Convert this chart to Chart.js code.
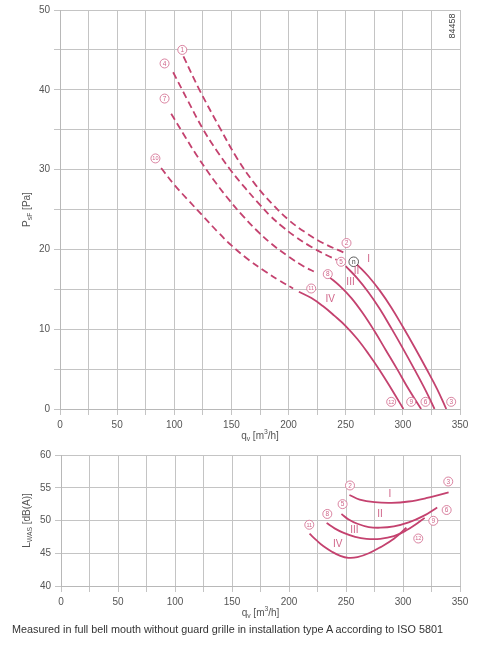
<!DOCTYPE html>
<html>
<head>
<meta charset="utf-8">
<script src="https://cdn.jsdelivr.net/npm/chart.js@4.4.1/dist/chart.umd.min.js"></script>
<style>
  body { margin: 0; background: #fff; width: 498px; height: 647px; position: relative; overflow: hidden; }
  canvas { position: absolute; left: 0; }
  #topChart { top: 0; }
  #bottomChart { top: 445px; }
  .caption { position: absolute; left: 12px; top: 623px; font: 10.8px "Liberation Sans", Arial, sans-serif; color: #333; white-space: nowrap; }
</style>
</head>
<body>
<canvas id="topChart" width="498" height="445"></canvas>
<canvas id="bottomChart" width="498" height="180"></canvas>
<div class="caption">Measured in full bell mouth without guard grille in installation type A according to ISO 5801</div>
<script>
// Pressure curves [q_v m3/h, p_sF Pa]
const dashedI   = [[108,44.2],[122,40],[140,35.2],[155,31.4],[170,28.3],[185,25.8],[200,23.7],[215,22.1],[230,20.8],[250,19.5]];
const solidI    = [[260,18.1],[270,16.6],[280,14.8],[290,12.7],[300,10.3],[310,7.8],[320,5.2],[330,2.5],[338,0]];
const dashedII  = [[99,42.2],[112,38.6],[125,35.1],[137,32.4],[150,29.8],[162,27.7],[173,25.9],[184,24.2],[195,22.8],[205,21.7],[220,20.3],[233,19.3],[242,18.7]];
const solidII   = [[250,17.9],[260,16.4],[270,14.6],[280,12.5],[290,10.1],[300,7.6],[310,5],[320,2.3],[327.7,0]];
const dashedIII = [[97.3,37],[110,34],[120,31.7],[135,28.6],[148,26.2],[160,24.2],[172,22.4],[185,20.7],[200,19.1],[213,17.9],[224,17.1]];
const solidIII  = [[236,16.5],[245,15.4],[255,13.9],[265,12],[275,9.8],[285,7.4],[295,5],[305,2.5],[316,0]];
const dashedIV  = [[88.5,30.2],[100,28.1],[112,26.2],[125,24.2],[138,22.2],[150,20.5],[165,18.7],[180,17.2],[192,16.1],[204,15.1]];
const solidIV   = [[209,14.7],[220,13.9],[230,12.9],[240,11.7],[250,10.4],[260,8.8],[270,6.9],[280,4.8],[290,2.5],[300.5,0]];

// Sound power curves [q_v m3/h, L_WAS dB(A)]
const soundI   = [[253,53.9],[262,53.2],[275,52.8],[290,52.7],[305,52.9],[320,53.4],[340,54.3]];
const soundII  = [[246,51],[252,50.2],[260,49.5],[270,49],[280,48.9],[292,49.1],[305,49.7],[318,50.7],[330,52]];
const soundIII = [[233,49.6],[240,48.8],[248,48.1],[258,47.5],[268,47.2],[280,47.2],[292,47.6],[303,48.5],[312,49.5],[319,50.4]];
const soundIV  = [[218,48],[224,47],[230,46.1],[238,45.2],[245,44.6],[252,44.3],[260,44.4],[270,45],[280,45.9],[292,47.2],[303,48.9]];

// point labels [text, q, value]
const topPoints = [['1',107,45],['4',91.5,43.3],['7',91.5,38.9],['10',83.5,31.4],['2',250.7,20.8],['5',246,18.45],
                   ['8',234.3,16.9],['11',219.8,15.1],['12',289.8,0.9],['9',307.3,0.9],['6',319.8,0.9],['3',342.3,0.9]];
const opPoint = ['n',257,18.45];
const topRomans = [['I',270,18.8],['II',259.4,17.3],['III',254.2,15.9],['IV',236.4,13.7]];
const bottomPoints = [['2',253.5,55.35],['3',339.7,55.95],['5',247,52.5],['6',338.3,51.6],['8',233.6,51],['9',326.6,49.95],['11',217.8,49.35],['12',313.4,47.25]];
const bottomRomans = [['I',288.6,53.95],['II',279.8,50.95],['III',257.3,48.45],['IV',242.7,46.45]];

const qTicks = { min: 0, max: 350, step: 25, labelEvery: 50 };
const pTicks = { min: 0, max: 50, step: 5, labelEvery: 10 };
const lTicks = { min: 40, max: 60, step: 5, labelEvery: 5 };

const LINE = '#c4426f';
const LABEL = '#d0668a';
const FONT = '"Liberation Sans", Arial, sans-serif';

function toXY(arr) { return arr.map(p => ({ x: p[0], y: p[1] })); }

function lineSet(arr, dashed) {
    return {
        data: toXY(arr),
        borderColor: LINE,
        borderWidth: 1.8,
        borderDash: dashed ? [7, 4] : [],
        pointRadius: 0,
        fill: false,
        tension: 0.4
    };
}

// draws text with sub/superscript parts centred on cx, cy
function drawRich(ctx, parts, cx, cy, size) {
    let widths = parts.map(p => {
        ctx.font = (p.sub || p.sup ? size * 0.68 : size) + 'px ' + FONT;
        return ctx.measureText(p.t).width;
    });
    let total = widths.reduce((a, b) => a + b, 0);
    let x = cx - total / 2;
    parts.forEach((p, i) => {
        ctx.font = (p.sub || p.sup ? size * 0.68 : size) + 'px ' + FONT;
        let dy = p.sub ? size * 0.32 : (p.sup ? -size * 0.38 : 0);
        ctx.fillText(p.t, x, cy + dy);
        x += widths[i];
    });
}

const annotate = {
    id: 'annotate',
    afterDatasetsDraw(chart, args, opts) {
        const ctx = chart.ctx;
        const xs = chart.scales.x, ys = chart.scales.y;
        ctx.save();
        ctx.textAlign = 'center';
        ctx.textBaseline = 'middle';
        (opts.points || []).forEach(p => {
            const px = xs.getPixelForValue(p[1]), py = ys.getPixelForValue(p[2]);
            const dark = p[0] === 'n';
            ctx.beginPath();
            ctx.arc(px, py, dark ? 4.8 : 4.5, 0, Math.PI * 2);
            ctx.fillStyle = '#fff';
            ctx.fill();
            ctx.lineWidth = 0.8;
            ctx.strokeStyle = dark ? '#333' : LABEL;
            ctx.stroke();
            ctx.fillStyle = dark ? '#333' : LABEL;
            ctx.font = (p[0].length > 1 ? 5.5 : 6.5) + 'px ' + FONT;
            ctx.fillText(p[0], px, py + 0.3);
        });
        ctx.font = '10px ' + FONT;
        ctx.fillStyle = LABEL;
        (opts.romans || []).forEach(r => {
            ctx.fillText(r[0], xs.getPixelForValue(r[1]), ys.getPixelForValue(r[2]));
        });
        ctx.restore();
    },
    afterDraw(chart, args, opts) {
        const ctx = chart.ctx, area = chart.chartArea;
        ctx.save();
        ctx.fillStyle = '#555';
        ctx.textAlign = 'left';
        ctx.textBaseline = 'middle';
        drawRich(ctx, opts.xTitle, (area.left + area.right) / 2, area.bottom + 27, 10);
        ctx.translate(27, (area.top + area.bottom) / 2);
        ctx.rotate(-Math.PI / 2);
        drawRich(ctx, opts.yTitle, 0, 0, 10);
        ctx.restore();
        if (opts.code) {
            ctx.save();
            ctx.fillStyle = '#444';
            ctx.font = '9px ' + FONT;
            ctx.textAlign = 'center';
            ctx.textBaseline = 'middle';
            ctx.translate(area.right - 7, area.top + 16);
            ctx.rotate(-Math.PI / 2);
            ctx.fillText(opts.code, 0, 0);
            ctx.restore();
        }
    }
};

function axis(t, extra) {
    return Object.assign({
        type: 'linear',
        min: t.min,
        max: t.max,
        grid: { color: '#c4c4c4', lineWidth: 1, tickLength: 6 },
        border: { color: '#b8b8b8' },
        ticks: {
            stepSize: t.step,
            autoSkip: false,
            maxRotation: 0,
            padding: 4,
            color: '#555',
            font: { family: FONT, size: 10 },
            callback: v => (v % t.labelEvery === 0 ? v : '')
        }
    }, extra);
}

const qTitle = [{ t: 'q' }, { t: 'v', sub: true }, { t: ' [m' }, { t: '3', sup: true }, { t: '/h]' }];

function makeChart(id, datasets, yTicks, yWidth, xHeight, padTop, pluginOpts) {
    return new Chart(document.getElementById(id), {
        type: 'line',
        data: { datasets: datasets },
        plugins: [annotate],
        options: {
            responsive: false,
            animation: false,
            layout: { padding: { top: padTop, right: 38, left: 0, bottom: 0 } },
            plugins: { legend: { display: false }, tooltip: { enabled: false }, annotate: pluginOpts },
            scales: {
                x: axis(qTicks, { afterFit: s => { s.height = xHeight; } }),
                y: axis(yTicks, { afterFit: s => { s.width = yWidth; } })
            }
        }
    });
}

makeChart('topChart', [
    lineSet(dashedI, true), lineSet(solidI, false),
    lineSet(dashedII, true), lineSet(solidII, false),
    lineSet(dashedIII, true), lineSet(solidIII, false),
    lineSet(dashedIV, true), lineSet(solidIV, false)
], pTicks, 60, 36, 9, {
    points: topPoints.concat([opPoint]),
    romans: topRomans,
    xTitle: qTitle,
    yTitle: [{ t: 'P' }, { t: 'sF', sub: true }, { t: ' [Pa]' }],
    code: '84458'
});

makeChart('bottomChart', [
    lineSet(soundI, false), lineSet(soundII, false),
    lineSet(soundIII, false), lineSet(soundIV, false)
], lTicks, 61, 39, 7, {
    points: bottomPoints,
    romans: bottomRomans,
    xTitle: qTitle,
    yTitle: [{ t: 'L' }, { t: 'WAS', sub: true }, { t: ' [dB(A)]' }]
});
</script>
</body>
</html>
